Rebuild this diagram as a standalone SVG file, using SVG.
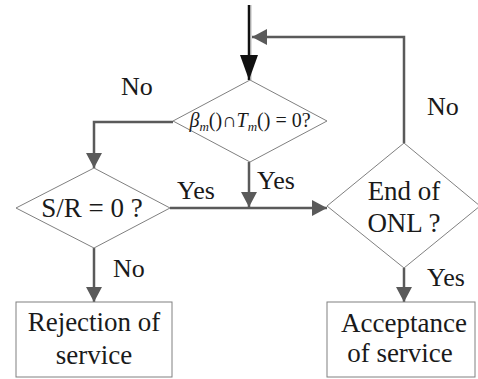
<svg xmlns="http://www.w3.org/2000/svg" width="478" height="379" viewBox="0 0 478 379">
<defs>
<marker id="ah" markerWidth="16" markerHeight="16" refX="15" refY="8" orient="auto" markerUnits="userSpaceOnUse">
<path d="M0,0 L15,8 L0,16 Z" fill="#5a5a5a"/>
</marker>
<marker id="ahb" markerWidth="26" markerHeight="18" refX="25" refY="9" orient="auto" markerUnits="userSpaceOnUse">
<path d="M0,0 L25,9 L0,18 Z" fill="#111"/>
</marker>
</defs>
<style>
.shape{fill:#fff;stroke:#808080;stroke-width:1}
.conn{fill:none;stroke:#5a5a5a;stroke-width:2.5}
.txt{font-family:'Liberation Serif','Times New Roman','DejaVu Serif',serif;fill:#1a1a1a}
.lbl{font-size:26px}
.t{font-size:27px;text-anchor:middle}
</style>
<g id="connectors">
<line x1="251" y1="5" x2="251" y2="80" stroke="#ddd" stroke-width="2"/>
<line x1="249" y1="5" x2="249" y2="80" stroke="#111" stroke-width="2.5" marker-end="url(#ahb)"/>
<polyline class="conn" points="404,143 404,37 252,37" marker-end="url(#ah)"/>
<polyline class="conn" points="173,122 94,122 94,168" marker-end="url(#ah)"/>
<line class="conn" x1="249" y1="162" x2="249" y2="207" marker-end="url(#ah)"/>
<line class="conn" x1="170" y1="208" x2="327" y2="208" marker-end="url(#ah)"/>
<line class="conn" x1="94" y1="248" x2="94" y2="302" marker-end="url(#ah)"/>
<line class="conn" x1="404" y1="268" x2="404" y2="302" marker-end="url(#ah)"/>
</g>
<g class="txt">
<g id="d1">
<polygon class="shape" points="250,80 327,121 250,162 173,121"/>
<text x="250" y="127" font-size="20" text-anchor="middle"><tspan font-style="italic">β</tspan><tspan font-style="italic" font-size="13" dy="4">m</tspan><tspan dy="-4">()∩</tspan><tspan font-style="italic">T</tspan><tspan font-style="italic" font-size="13" dy="4">m</tspan><tspan dy="-4">() = 0?</tspan></text>
</g>
<g id="d2">
<polygon class="shape" points="94,168 170,208 94,248 16,208"/>
<text class="t" x="92" y="217">S/R = 0 ?</text>
</g>
<g id="d3">
<polygon class="shape" points="404,143 480,206 404,268 327,206"/>
<text class="t" x="404" y="200">End of</text>
<text class="t" x="404" y="232">ONL ?</text>
</g>
<g id="rej">
<rect class="shape" x="16" y="302" width="156" height="75"/>
<text class="t" x="94" y="331">Rejection of</text>
<text class="t" x="94" y="364">service</text>
</g>
<g id="acc">
<rect class="shape" x="327" y="302" width="148" height="75"/>
<text class="t" x="404" y="332">Acceptance</text>
<text class="t" x="400" y="362">of service</text>
</g>
<g id="labels">
<text class="lbl" x="121" y="95">No</text>
<text class="lbl" x="427" y="115">No</text>
<text class="lbl" x="177" y="199">Yes</text>
<text class="lbl" x="257" y="189">Yes</text>
<text class="lbl" x="113" y="277">No</text>
<text class="lbl" x="427" y="286">Yes</text>
</g>
</g>
</svg>
